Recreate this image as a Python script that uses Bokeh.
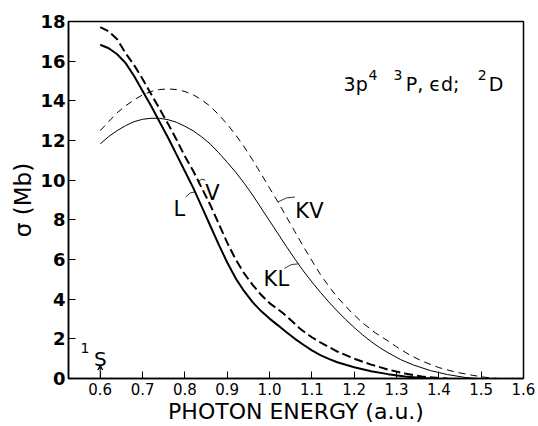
import numpy as np
from bokeh.plotting import figure
from bokeh.models import Range1d, FixedTicker, Label, Arrow, VeeHead
from bokeh.embed import file_html
from bokeh.resources import INLINE

# ---- data (photon energy in a.u., cross section in Mb) ----
L_x = [0.60, 0.62, 0.64, 0.66, 0.68, 0.70, 0.72, 0.74, 0.76, 0.78, 0.80, 0.82, 0.84, 0.86,
       0.88, 0.90, 0.92, 0.94, 0.96, 0.98, 1.00, 1.02, 1.04, 1.06, 1.08, 1.10, 1.12, 1.14,
       1.16, 1.20, 1.24, 1.28, 1.32, 1.36, 1.38]
L_y = [16.83, 16.65, 16.35, 15.9, 15.25, 14.5, 13.75, 12.95, 12.15, 11.3, 10.45, 9.6, 8.65,
       7.7, 6.75, 5.85, 5.05, 4.4, 3.85, 3.4, 3.02, 2.68, 2.33, 2.0, 1.7, 1.42, 1.18, 0.99,
       0.82, 0.57, 0.37, 0.22, 0.1, 0.02, 0.0]

V_x = [0.60, 0.62, 0.64, 0.66, 0.68, 0.70, 0.72, 0.74, 0.76, 0.78, 0.80, 0.82, 0.84, 0.86,
       0.88, 0.90, 0.92, 0.94, 0.96, 0.98, 1.00, 1.03, 1.05, 1.07, 1.08, 1.10, 1.12, 1.16,
       1.20, 1.24, 1.28, 1.32, 1.36, 1.40, 1.42]
V_y = [17.72, 17.5, 17.1, 16.4, 15.8, 15.1, 14.35, 13.6, 12.85, 12.05, 11.2, 10.45, 9.6,
       8.75, 7.8, 6.85, 6.0, 5.3, 4.72, 4.22, 3.8, 3.33, 2.95, 2.55, 2.38, 2.08, 1.82, 1.36,
       1.0, 0.7, 0.45, 0.25, 0.1, 0.02, 0.0]

KL_x = [0.60, 0.62, 0.64, 0.66, 0.68, 0.70, 0.72, 0.74, 0.76, 0.78, 0.80, 0.82, 0.84, 0.86,
        0.88, 0.90, 0.92, 0.94, 0.96, 0.98, 1.00, 1.02, 1.04, 1.06, 1.08, 1.10, 1.12, 1.14,
        1.16, 1.18, 1.20, 1.22, 1.24, 1.26, 1.28, 1.31, 1.34, 1.38, 1.42, 1.46, 1.49]
KL_y = [11.83, 12.2, 12.5, 12.75, 12.95, 13.07, 13.12, 13.12, 13.05, 12.92, 12.72, 12.48,
        12.18, 11.82, 11.38, 10.9, 10.4, 9.85, 9.25, 8.6, 7.95, 7.3, 6.65, 6.02, 5.42, 4.87,
        4.35, 3.86, 3.4, 2.97, 2.57, 2.2, 1.86, 1.56, 1.3, 0.95, 0.68, 0.4, 0.2, 0.06, 0.0]

KV_x = [0.60, 0.62, 0.64, 0.66, 0.68, 0.70, 0.72, 0.74, 0.76, 0.78, 0.80, 0.82, 0.84, 0.86,
        0.88, 0.90, 0.92, 0.94, 0.96, 0.98, 1.00, 1.02, 1.04, 1.06, 1.08, 1.105, 1.12, 1.14,
        1.16, 1.18, 1.19, 1.22, 1.25, 1.28, 1.30, 1.33, 1.36, 1.40, 1.44, 1.48, 1.51, 1.54]
KV_y = [12.5, 12.95, 13.4, 13.75, 14.05, 14.3, 14.47, 14.57, 14.6, 14.57, 14.47, 14.3, 14.05,
        13.72, 13.3, 12.82, 12.28, 11.68, 11.02, 10.32, 9.6, 8.9, 8.15, 7.4, 6.65, 5.77, 5.25,
        4.65, 4.1, 3.65, 3.41, 2.8, 2.3, 1.89, 1.6, 1.2, 0.88, 0.55, 0.32, 0.16, 0.06, 0.0]

x_ticks = [0.6, 0.7, 0.8, 0.9, 1.0, 1.1, 1.2, 1.3, 1.4, 1.5, 1.6]
x_tick_labels = ["0.6", "0.7", "0.8", "0.9", "1.0", "1.1", "1.2", "1.3", "1.4", "1.5", "1.6"]
y_ticks = [0, 2, 4, 6, 8, 10, 12, 14, 16, 18]

threshold_x = 0.6   # 1S threshold marker

FONT = "DejaVu Sans"

p = figure(width=538, height=426, output_backend="svg", toolbar_location=None,
           x_range=Range1d(0.525, 1.6), y_range=Range1d(0, 18),
           min_border_left=68, min_border_right=15, min_border_top=21, min_border_bottom=48,
           background_fill_color="white", border_fill_color="white")
p.grid.visible = False
p.outline_line_color = "black"
p.outline_line_width = 1.5

xa = p.xaxis[0]
xa.ticker = FixedTicker(ticks=x_ticks)
xa.major_label_overrides = {t: s for t, s in zip(x_ticks, x_tick_labels)}
ya = p.yaxis[0]
ya.ticker = FixedTicker(ticks=y_ticks)
for ax in (xa, ya):
    ax.axis_line_color = "black"
    ax.axis_line_width = 1.5
    ax.major_tick_in = 7
    ax.major_tick_out = 0
    ax.minor_tick_line_color = None
    ax.major_tick_line_color = "black"
    ax.major_tick_line_width = 1
    ax.major_label_text_font = FONT
    ax.major_label_text_color = "black"
    ax.axis_label_text_font = FONT
    ax.axis_label_text_font_style = "normal"
    ax.axis_label_text_color = "black"
xa.major_label_text_font_size = "15px"
xa.major_label_standoff = 4
xa.axis_label = "PHOTON ENERGY (a.u.)"
xa.axis_label_text_font_size = "22px"
xa.axis_label_standoff = 1
ya.major_label_text_font_size = "18px"
ya.major_label_text_font_style = "bold"
ya.major_label_standoff = 3
ya.axis_label = "σ (Mb)"
ya.axis_label_text_font_size = "23px"
ya.axis_label_standoff = 1

p.line(L_x, L_y, line_color="black", line_width=2.0)
p.line(V_x, V_y, line_color="black", line_width=2.0, line_dash="9 4")
p.line(KL_x, KL_y, line_color="black", line_width=1.0)
p.line(KV_x, KV_y, line_color="black", line_width=1.0, line_dash="7 5")

def lab(x, y, t, size="21px", align="left"):
    p.add_layout(Label(x=x, y=y, text=t, text_font=FONT, text_font_size=size,
                       text_align=align, text_baseline="alphabetic", text_color="black"))

# curve labels with short leaders to their curves
lab(0.773, 8.56, "L")
lab(0.848, 9.37, "V")
lab(1.061, 8.46, "KV")
lab(0.986, 5.03, "KL")

def leader(x0, y0, cx, xs, ys):
    cy = float(np.interp(cx, xs, ys))
    p.line([x0, (x0 + cx) / 2, cx], [y0, (y0 + cy) / 2 + 0.08, cy], line_color="black",
           line_width=0.8)

leader(0.802, 9.15, 0.824, L_x, L_y)
leader(0.848, 10.0, 0.832, V_x, V_y)
leader(1.06, 9.15, 1.02, KV_x, KV_y)
leader(1.035, 5.55, 1.068, KL_x, KL_y)

# state label: 3p4 3P, ϵd; 2D with raised superscripts
base_y, sup_y = 14.87, 15.28
lab(1.175, base_y, "3p", size="19px")
lab(1.234, sup_y, "4", size="14px")
lab(1.293, sup_y, "3", size="14px")
lab(1.322, base_y, "P, ϵd;", size="19px")
lab(1.492, sup_y, "2", size="14px")
lab(1.518, base_y, "D", size="19px")

# 1S threshold
lab(threshold_x, 0.98, "S", size="20px", align="center")
lab(threshold_x - 0.036, 1.54, "1", size="14px", align="center")
p.add_layout(Arrow(end=VeeHead(size=5, line_color="black", fill_color="black", line_width=1),
                   x_start=threshold_x, y_start=0, x_end=threshold_x, y_end=0.68,
                   line_color="black", line_width=1))

open("out.html", "w").write(file_html(p, INLINE))
